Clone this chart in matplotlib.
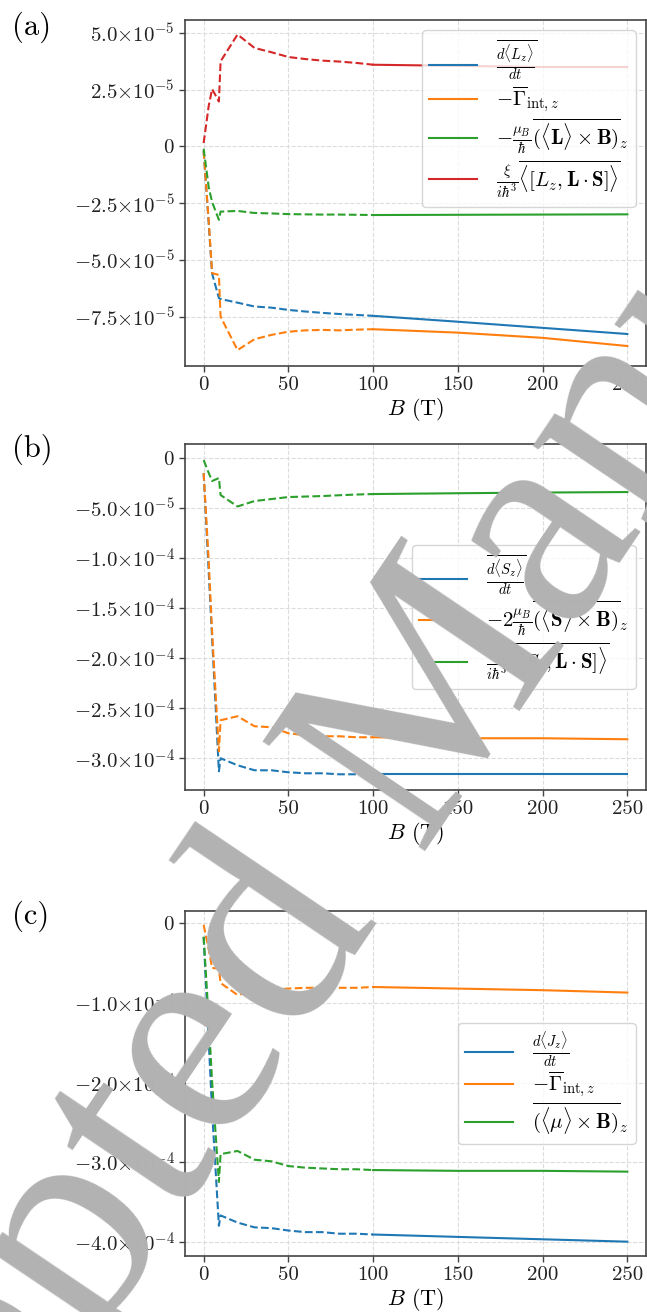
import numpy as np
import matplotlib
matplotlib.use("Agg")
import matplotlib.pyplot as plt
from matplotlib.ticker import MultipleLocator, FuncFormatter

plt.rcParams['font.family'] = 'serif'
plt.rcParams['font.serif'] = ['cmr10']
plt.rcParams['mathtext.fontset'] = 'cm'
plt.rcParams['axes.unicode_minus'] = False

'''################################ DATA ################################'''
# field values: dashed part (B <= 100 T) and solid part (B >= 100 T)
B_low = [0, 3, 5, 9, 10, 20, 30, 40, 50, 60, 70, 80, 90, 100]
B_high = [100, 150, 200, 250]

# panel (a), units of 1e-5
a_dLz_low = [-0.2, -3.4, -5.6, -6.68, -6.72, -6.88, -7.05, -7.1, -7.2, -7.27, -7.33, -7.38, -7.42, -7.46]
a_dLz_high = [-7.46, -7.72, -7.99, -8.26]
a_gamma_low = [-0.2, -3.3, -5.58, -5.66, -7.5, -8.97, -8.49, -8.3, -8.16, -8.1, -8.08, -8.1, -8.07, -8.05]
a_gamma_high = [-8.05, -8.2, -8.43, -8.79]
a_LxB_low = [-0.1, -1.8, -2.45, -3.23, -2.87, -2.84, -2.93, -2.95, -2.98, -2.99, -3.0, -3.0, -3.01, -3.02]
a_LxB_high = [-3.02, -3.01, -3.0, -2.99]
a_comm_low = [0.15, 1.79, 2.53, 1.98, 3.75, 4.93, 4.34, 4.15, 3.94, 3.85, 3.78, 3.74, 3.68, 3.6]
a_comm_high = [3.6, 3.55, 3.5, 3.5]

# panel (b), units of 1e-4
b_dSz_low = [-0.15, -1.14, -1.8, -3.13, -3.0, -3.07, -3.12, -3.12, -3.14, -3.15, -3.15, -3.16, -3.16, -3.16]
b_dSz_high = [-3.16, -3.16, -3.16, -3.16]
b_SxB_low = [-0.15, -1.03, -1.74, -2.93, -2.62, -2.58, -2.68, -2.69, -2.75, -2.77, -2.78, -2.78, -2.79, -2.79]
b_SxB_high = [-2.79, -2.8, -2.8, -2.81]
b_comm_low = [-0.02, -0.15, -0.23, -0.20, -0.37, -0.484, -0.43, -0.41, -0.39, -0.385, -0.38, -0.372, -0.365, -0.36]
b_comm_high = [-0.36, -0.352, -0.345, -0.34]

# panel (c), units of 1e-4
c_dJz_low = [-0.17, -1.48, -2.36, -3.8, -3.67, -3.76, -3.82, -3.83, -3.86, -3.88, -3.88, -3.9, -3.9, -3.91]
c_dJz_high = [-3.91, -3.94, -3.97, -4.0]
c_gamma_low = [-0.02, -0.33, -0.56, -0.57, -0.75, -0.9, -0.85, -0.83, -0.82, -0.81, -0.81, -0.81, -0.81, -0.8]
c_gamma_high = [-0.8, -0.82, -0.84, -0.87]
c_muxB_low = [-0.17, -1.21, -1.99, -3.25, -2.9, -2.86, -2.97, -2.99, -3.05, -3.07, -3.08, -3.09, -3.09, -3.1]
c_muxB_high = [-3.1, -3.11, -3.11, -3.12]

labels_a = [r'$\overline{\frac{d\langle L_z\rangle}{dt}}$',
            r'$-\overline{\Gamma}_{\mathrm{int},z}$',
            r'$-\frac{\mu_B}{\hbar}\overline{(\langle\mathbf{L}\rangle\times\mathbf{B})}_z$',
            r'$\frac{\xi}{i\hbar^3}\overline{\langle[L_z,\mathbf{L}\cdot\mathbf{S}]\rangle}$']
labels_b = [r'$\overline{\frac{d\langle S_z\rangle}{dt}}$',
            r'$-2\frac{\mu_B}{\hbar}\overline{(\langle\mathbf{S}\rangle\times\mathbf{B})}_z$',
            r'$\frac{\xi}{i\hbar^3}\overline{\langle[S_z,\mathbf{L}\cdot\mathbf{S}]\rangle}$']
labels_c = [r'$\frac{d\langle J_z\rangle}{dt}$',
            r'$-\overline{\Gamma}_{\mathrm{int},z}$',
            r'$\overline{(\langle\mu\rangle\times\mathbf{B})}_z$']

colors = ['tab:blue', 'tab:orange', 'tab:green', 'tab:red']


def sci_fmt(v, pos):
    if abs(v) < 1e-12:
        return r'$0$'
    e = int(np.floor(np.log10(abs(v)) + 1e-9))
    m = v / 10.0**e
    return r'$%.1f{\times}10^{%d}$' % (m, e)


def style_axes(ax, step, ylim):
    ax.set_xlim(-11, 261)
    ax.set_ylim(*ylim)
    ax.xaxis.set_major_locator(MultipleLocator(50))
    ax.yaxis.set_major_locator(MultipleLocator(step))
    ax.yaxis.set_major_formatter(FuncFormatter(sci_fmt))
    ax.grid(True, linestyle='--', color='#dcdcdc', linewidth=0.8)
    ax.set_axisbelow(True)
    for s in ax.spines.values():
        s.set_color('#444444')
        s.set_linewidth(1.2)
    ax.tick_params(direction='out', length=4, width=1, color='#444444',
                   labelsize=15, labelcolor='#222222')
    ax.set_xlabel(r'$B$ (T)', fontsize=16, labelpad=1)


def draw(ax, lows, highs, labels, scale):
    for i, (lo, hi, lab) in enumerate(zip(lows, highs, labels)):
        ax.plot(B_low, np.array(lo) * scale, '--', color=colors[i], lw=1.5)
        ax.plot(B_high, np.array(hi) * scale, '-', color=colors[i], lw=1.5, label=lab)


def add_legend(ax, loc, spacing):
    ax.legend(loc=loc, fontsize=15, framealpha=0.8, edgecolor='#cccccc',
              handlelength=2.3, labelspacing=spacing, borderpad=0.35,
              handletextpad=0.9)


fig = plt.figure(figsize=(6.47, 13.12), dpi=100)
W, H = 647.0, 1312.0

ax_a = fig.add_axes([185 / W, 1 - 366 / H, 461 / W, 346 / H])
draw(ax_a, [a_dLz_low, a_gamma_low, a_LxB_low, a_comm_low],
     [a_dLz_high, a_gamma_high, a_LxB_high, a_comm_high], labels_a, 1e-5)
style_axes(ax_a, 2.5e-5, (-9.67e-5, 5.57e-5))
add_legend(ax_a, 'upper right', 0.1)

ax_b = fig.add_axes([185 / W, 1 - 790 / H, 461 / W, 346 / H])
draw(ax_b, [b_dSz_low, b_SxB_low, b_comm_low],
     [b_dSz_high, b_SxB_high, b_comm_high], labels_b, 1e-4)
style_axes(ax_b, 5e-5, (-3.317e-4, 1.4e-5))
add_legend(ax_b, 'center right', 0.1)

ax_c = fig.add_axes([185 / W, 1 - 1256 / H, 461 / W, 345 / H])
draw(ax_c, [c_dJz_low, c_gamma_low, c_muxB_low],
     [c_dJz_high, c_gamma_high, c_muxB_high], labels_c, 1e-4)
style_axes(ax_c, 1e-4, (-4.18e-4, 1.55e-5))
add_legend(ax_c, 'center right', 0.05)

fig.text(12 / W, 1 - 12 / H, '(a)', fontsize=22, va='top', ha='left')
fig.text(12 / W, 1 - 434 / H, '(b)', fontsize=22, va='top', ha='left')
fig.text(12 / W, 1 - 901 / H, '(c)', fontsize=22, va='top', ha='left')

# watermark
fig.text(406 / W, 1 - 752 / H, 'Accepted Manuscript', fontsize=215, color='#b2b2b2',
         family='Liberation Serif', rotation=56, rotation_mode='anchor',
         ha='center', va='center', zorder=10)

fig.savefig('out.png', dpi=100)
